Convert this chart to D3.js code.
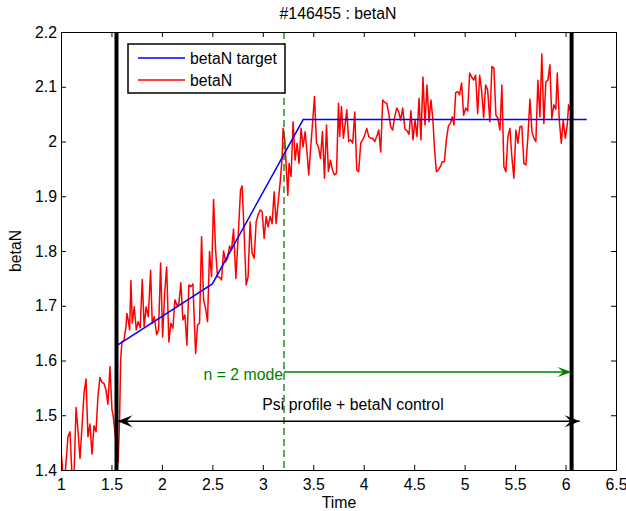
<!DOCTYPE html>
<html>
<head>
<meta charset="utf-8">
<script src="https://cdn.jsdelivr.net/npm/d3@7"></script>
<style>
  body { margin: 0; background: #fff; }
  svg { font-family: "Liberation Sans", Arial, Helvetica, sans-serif; }
  .axis path, .axis line { stroke: #000; stroke-width: 1; }
  .axis text { font-size: 15.8px; fill: #000; }
</style>
</head>
<body>
<svg id="chart" width="626" height="511"></svg>
<script>
// --- data ---
const xTicks = [1, 1.5, 2, 2.5, 3, 3.5, 4, 4.5, 5, 5.5, 6, 6.5];
const yTicks = [1.4, 1.5, 1.6, 1.7, 1.8, 1.9, 2, 2.1, 2.2];

const targetTime = [1.56, 2.5, 3.4, 6.21];
const targetBeta = [1.628, 1.74, 2.04, 2.04];

const betaTime = [
  1.003, 1.02, 1.04, 1.069, 1.089, 1.109, 1.129, 1.149, 1.168, 1.188,
  1.208, 1.228, 1.248, 1.267, 1.287, 1.307, 1.327, 1.347, 1.366, 1.386,
  1.406, 1.426, 1.446, 1.465, 1.485, 1.505, 1.515, 1.567, 1.581, 1.591,
  1.604, 1.624, 1.644, 1.653, 1.666, 1.68, 1.693, 1.706, 1.726, 1.746,
  1.765, 1.785, 1.805, 1.824, 1.844, 1.865, 1.888, 1.904, 1.924, 1.948,
  1.967, 1.987, 2.007, 2.027, 2.047, 2.069, 2.089, 2.109, 2.129, 2.149,
  2.168, 2.188, 2.208, 2.228, 2.248, 2.267, 2.287, 2.307, 2.334, 2.353,
  2.373, 2.393, 2.413, 2.433, 2.452, 2.472, 2.492, 2.512, 2.532, 2.551,
  2.571, 2.591, 2.611, 2.631, 2.65, 2.67, 2.69, 2.71, 2.733, 2.759,
  2.779, 2.795, 2.815, 2.835, 2.854, 2.874, 2.894, 2.914, 2.934, 2.953,
  2.973, 2.993, 3.013, 3.033, 3.052, 3.072, 3.092, 3.112, 3.132, 3.151,
  3.171, 3.191, 3.201, 3.218, 3.233, 3.248, 3.26, 3.28, 3.3, 3.32,
  3.34, 3.359, 3.379, 3.399, 3.419, 3.439, 3.455, 3.475, 3.495, 3.512,
  3.532, 3.551, 3.571, 3.591, 3.611, 3.631, 3.65, 3.67, 3.69, 3.71,
  3.73, 3.75, 3.762, 3.779, 3.799, 3.815, 3.832, 3.851, 3.871, 3.891,
  3.911, 3.931, 3.95, 3.97, 3.99, 4.01, 4.03, 4.05, 4.069, 4.089,
  4.109, 4.129, 4.149, 4.168, 4.188, 4.208, 4.228, 4.248, 4.267, 4.287,
  4.307, 4.327, 4.347, 4.366, 4.386, 4.409, 4.429, 4.449, 4.468, 4.488,
  4.508, 4.528, 4.548, 4.567, 4.587, 4.607, 4.627, 4.647, 4.666, 4.686,
  4.7, 4.72, 4.74, 4.759, 4.779, 4.799, 4.819, 4.839, 4.858, 4.878,
  4.894, 4.911, 4.931, 4.95, 4.97, 4.99, 5.01, 5.03, 5.05, 5.069,
  5.089, 5.109, 5.129, 5.149, 5.168, 5.188, 5.208, 5.228, 5.25, 5.27,
  5.29, 5.31, 5.33, 5.35, 5.369, 5.389, 5.409, 5.429, 5.449, 5.468,
  5.488, 5.508, 5.528, 5.548, 5.567, 5.587, 5.607, 5.627, 5.647, 5.667,
  5.686, 5.706, 5.726, 5.746, 5.765, 5.785, 5.805, 5.825, 5.845, 5.864,
  5.884, 5.904, 5.918, 5.938, 5.958, 5.977, 5.997, 6.017, 6.03, 6.043,
  6.057
];
const betaValue = [
  1.43, 1.39, 1.39, 1.461, 1.47, 1.39, 1.39, 1.514, 1.473, 1.421,
  1.479, 1.54, 1.566, 1.461, 1.484, 1.429, 1.481, 1.47, 1.534, 1.569,
  1.56, 1.558, 1.546, 1.52, 1.589, 1.51, 1.502, 1.415, 1.497, 1.601,
  1.634, 1.637, 1.662, 1.686, 1.674, 1.656, 1.746, 1.668, 1.698, 1.656,
  1.671, 1.66, 1.748, 1.662, 1.698, 1.68, 1.765, 1.668, 1.68, 1.647,
  1.656, 1.778, 1.643, 1.722, 1.771, 1.634, 1.668, 1.659, 1.711, 1.701,
  1.704, 1.742, 1.674, 1.683, 1.628, 1.738, 1.735, 1.74, 1.613, 1.665,
  1.668, 1.826, 1.711, 1.695, 1.671, 1.799, 1.753, 1.894, 1.802, 1.753,
  1.752, 1.747, 1.8, 1.78, 1.787, 1.809, 1.802, 1.84, 1.75, 1.838,
  1.911, 1.919, 1.832, 1.738, 1.753, 1.853, 1.796, 1.787, 1.853, 1.866,
  1.875, 1.872, 1.823, 1.863, 1.844, 1.863, 1.85, 1.908, 1.85, 1.887,
  1.924, 1.969, 2.024, 2.003, 1.95, 1.902, 1.96, 1.936, 2.036, 1.966,
  1.997, 1.96, 2.024, 1.99, 2.018, 1.978, 1.939, 1.99, 2.039, 2.082,
  1.997, 1.99, 1.969, 2.018, 1.933, 2.03, 1.945, 1.966, 1.948, 1.939,
  1.942, 2.07, 2.009, 2.064, 2.006, 2.03, 2.058, 2.0, 2.003, 1.997,
  2.054, 1.948, 1.945, 1.997, 2.003, 2.012, 2.024, 2.009, 2.006, 2.006,
  2.0, 2.009, 2.021, 1.981, 2.076, 2.071, 2.07, 2.051, 2.027, 2.021,
  2.045, 2.061, 2.054, 2.039, 2.061, 2.022, 2.02, 2.013, 2.056, 2.003,
  2.039, 2.009, 2.079, 2.003, 2.118, 2.03, 2.103, 2.036, 2.076, 2.039,
  1.99, 1.945, 1.948, 1.954, 1.963, 1.963, 2.003, 2.028, 2.033, 2.045,
  2.03, 2.089, 2.091, 2.085, 2.107, 2.048, 2.061, 2.056, 2.125, 2.118,
  2.112, 2.121, 2.051, 2.121, 2.094, 2.044, 2.103, 2.094, 2.036, 2.137,
  2.134, 2.048, 2.042, 2.021, 2.103, 1.954, 1.945, 2.009, 2.024, 1.972,
  1.933, 2.021, 1.997, 2.027, 2.028, 1.96, 1.957, 2.009, 2.077, 2.018,
  2.006, 2.0, 2.112, 2.045, 2.16, 2.033, 2.109, 2.112, 2.14, 2.042,
  2.067, 2.059, 2.125, 2.039, 1.997, 2.039, 2.006, 2.03, 2.067, 2.058,
  2.064
];

const controlStart = 1.55;
const controlEnd = 6.06;
const modeTime = 3.21;
const controlArrow = { from: 1.56, to: 6.14, level: 1.489 };
const modeArrow = { from: 3.21, to: 6.06, level: 1.579 };

// --- layout ---
const svg = d3.select("#chart");
const width = 626, height = 511;
const margin = { top: 32, right: 10, bottom: 41, left: 61 };

const x = d3.scaleLinear().domain([1, 6.5]).range([margin.left, width - margin.right]);
const y = d3.scaleLinear().domain([1.4, 2.2]).range([height - margin.bottom, margin.top]);

const [x0, x1] = x.range();
const [y1, y0] = y.range();

svg.append("defs").append("clipPath").attr("id", "plot-clip")
  .append("rect").attr("x", x0).attr("y", y0).attr("width", x1 - x0).attr("height", y1 - y0);

const plot = svg.append("g").attr("clip-path", "url(#plot-clip)");

// legend (drawn under the data marks)
const legend = svg.append("g");
legend.append("rect")
  .attr("x", 128).attr("y", 44).attr("width", 157).attr("height", 49)
  .attr("fill", "#fff").attr("stroke", "#000").attr("stroke-width", 1.5);
const legendItems = [
  { name: "betaN target", color: "#0000ff" },
  { name: "betaN", color: "#ff0000" }
];
legendItems.forEach((d, i) => {
  const ly = 58 + i * 22;
  legend.append("line").attr("x1", 138).attr("x2", 185).attr("y1", ly).attr("y2", ly)
    .attr("stroke", d.color).attr("stroke-width", 1.5);
  legend.append("text").attr("x", 190).attr("y", ly + 5.5)
    .attr("font-size", 15.8).text(d.name);
});

// data lines
const line = d3.line().x(d => x(d[0])).y(d => y(d[1]));

plot.append("path")
  .datum(betaTime.map((t, i) => [t, betaValue[i]]))
  .attr("fill", "none").attr("stroke", "#ff0000").attr("stroke-width", 1.5)
  .attr("stroke-linejoin", "round")
  .attr("d", line);

plot.append("path")
  .datum(targetTime.map((t, i) => [t, targetBeta[i]]))
  .attr("fill", "none").attr("stroke", "#0000ff").attr("stroke-width", 1.5)
  .attr("d", line);

// mode onset line
plot.append("line")
  .attr("x1", x(modeTime)).attr("x2", x(modeTime)).attr("y1", y0).attr("y2", y1)
  .attr("stroke", "#008000").attr("stroke-width", 1.3).attr("stroke-dasharray", "7,4");

// control window bounds
[controlStart, controlEnd].forEach(t => {
  plot.append("line")
    .attr("x1", x(t)).attr("x2", x(t)).attr("y1", y0).attr("y2", y1)
    .attr("stroke", "#000").attr("stroke-width", 4);
});

// arrows
const arrowHead = (tipX, tipY, dir, len, half) =>
  `M${tipX},${tipY}L${tipX - dir * len},${tipY - half}L${tipX - dir * len * 0.6},${tipY}L${tipX - dir * len},${tipY + half}Z`;

const ay = y(controlArrow.level);
svg.append("line")
  .attr("x1", x(controlArrow.from)).attr("x2", x(controlArrow.to)).attr("y1", ay).attr("y2", ay)
  .attr("stroke", "#000").attr("stroke-width", 1.5);
svg.append("path").attr("d", arrowHead(x(controlArrow.from), ay, -1, 15, 6)).attr("fill", "#000");
svg.append("path").attr("d", arrowHead(x(controlArrow.to), ay, 1, 15, 6)).attr("fill", "#000");
svg.append("text")
  .attr("x", 353).attr("y", 410).attr("text-anchor", "middle").attr("font-size", 15.8)
  .text("Psi profile + betaN control");

const gy = y(modeArrow.level);
svg.append("line")
  .attr("x1", x(modeArrow.from)).attr("x2", x(modeArrow.to) - 4).attr("y1", gy).attr("y2", gy)
  .attr("stroke", "#008000").attr("stroke-width", 1.5);
svg.append("path").attr("d", arrowHead(x(modeArrow.to), gy, 1, 14, 5)).attr("fill", "#008000");
svg.append("text")
  .attr("x", x(modeArrow.from) - 1).attr("y", 380).attr("text-anchor", "end").attr("font-size", 15.8)
  .attr("fill", "#008000").text("n = 2 mode");

// axes with inward ticks on all four sides
const fmt = d => String(d);
svg.append("g").attr("class", "axis").attr("transform", `translate(0,${y1})`)
  .call(d3.axisBottom(x).tickValues(xTicks).tickFormat(fmt).tickSizeInner(-5).tickSizeOuter(0).tickPadding(8.5));
svg.append("g").attr("class", "axis").attr("transform", `translate(0,${y0})`)
  .call(d3.axisTop(x).tickValues(xTicks).tickFormat("").tickSizeInner(-5).tickSizeOuter(0));
svg.append("g").attr("class", "axis").attr("transform", `translate(${x0},0)`)
  .call(d3.axisLeft(y).tickValues(yTicks).tickFormat(fmt).tickSizeInner(-5).tickSizeOuter(0).tickPadding(4));
svg.append("g").attr("class", "axis").attr("transform", `translate(${x1},0)`)
  .call(d3.axisRight(y).tickValues(yTicks).tickFormat("").tickSizeInner(-5).tickSizeOuter(0));

// labels
svg.append("text").attr("x", 338).attr("y", 19).attr("text-anchor", "middle")
  .attr("font-size", 15.8).text("#146455 : betaN");
svg.append("text").attr("x", 339).attr("y", 508).attr("text-anchor", "middle")
  .attr("font-size", 15.8).text("Time");
svg.append("text").attr("transform", `translate(21,${(y0 + y1) / 2}) rotate(-90)`)
  .attr("text-anchor", "middle").attr("font-size", 15.8).text("betaN");
</script>
</body>
</html>
